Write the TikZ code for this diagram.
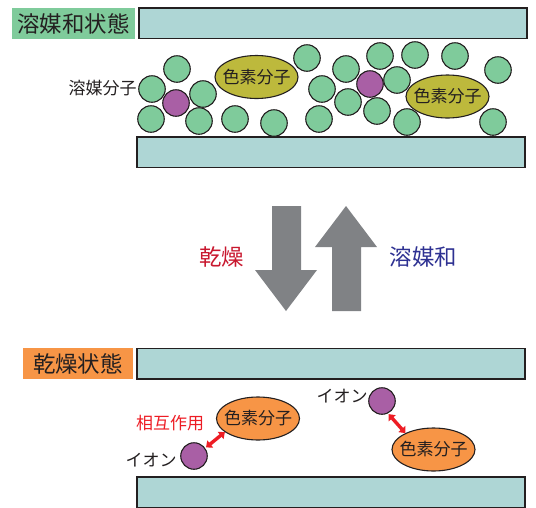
\documentclass[tikz,border=0pt]{standalone}
\usepackage{fontspec}
\setmainfont{Noto Sans CJK JP}
\usetikzlibrary{shapes.geometric,arrows.meta}
\definecolor{solv}{HTML}{7FCB9B}
\definecolor{plate}{HTML}{AED6D5}
\definecolor{ionc}{HTML}{A95FA5}
\definecolor{olive}{HTML}{BDB93C}
\definecolor{orng}{HTML}{F79546}
\definecolor{ink}{HTML}{231F20}
\definecolor{arrowgray}{HTML}{808285}
\definecolor{dryred}{HTML}{C8172E}
\definecolor{wetblue}{HTML}{2E3192}
\definecolor{linkred}{HTML}{ED1C24}
\newcommand{\dyetext}{\raisebox{-0.38em}[0pt][0pt]{\makebox[0pt]{色素分子}}}
\tikzset{
  x=1pt,y=-1pt,
  plateb/.style={draw=ink,line width=1.5pt,fill=plate,rectangle,inner sep=0,outer sep=0,minimum width=388pt,minimum height=30.5pt},
  mol/.style={draw=ink,line width=1.1pt,circle,inner sep=0,outer sep=0,minimum size=26.5pt},
  green mol/.style={mol,fill=solv},
  ion mol/.style={mol,fill=ionc},
  dye/.style={draw=ink,line width=1.1pt,ellipse,inner sep=0,outer sep=0,minimum width=83pt,minimum height=43pt,text=ink,font=\fontsize{17pt}{18pt}\selectfont},
  olive dye/.style={dye,fill=olive},
  orange dye/.style={dye,fill=orng},
  label text/.style={inner sep=0,text=ink,font=\fontsize{17pt}{18pt}\selectfont},
  title box/.style={inner sep=0,outer sep=0,text=ink,minimum height=31pt,font=\fontsize{22.4pt}{24pt}\selectfont},
  big text/.style={inner sep=0,font=\fontsize{22.4pt}{24pt}\selectfont},
  flow/.style={fill=arrowgray,draw=none},
  link/.style={draw=linkred,line width=3.4pt,shorten <=1.5pt,shorten >=0.5pt,{Triangle[length=5.5pt,width=9pt]}-{Triangle[length=5.5pt,width=9pt]}}
}
\begin{document}
\begin{tikzpicture}
\useasboundingbox (0,0) rectangle (536,507);
% titles
\node[title box,fill=solv,minimum width=123pt] (t1) at (73.5,23.5) {溶媒和状態};
\node[title box,fill=orng,minimum width=110pt] (t2) at (78,363.5) {乾燥状態};
% plates
\node[plateb] (p1) at (333,23.2) {};
\node[plateb] (p2) at (331,152.2) {};
\node[plateb] (p3) at (331,363.5) {};
\node[plateb] (p4) at (331,492) {};
% dyes, upper
\node[olive dye] (d1) at (256.5,77) {\dyetext};
\node[olive dye] (d2) at (447.5,96.5) {\dyetext};
% solvent molecules
\foreach \n/\x/\y in {a/177/69,b/152/89,c/203/94,d/151/119,e/199/121,f/235/119,g/274/123,
  h/307/58,i/346/69,j/322/89,k/348/102,l/319/119,m/377/111,n/380/56,o/415/55,q/397/80,r/407/122,s/455/56,u/498/70,v/493/122}
  \node[green mol] (\n) at (\x,\y) {};
\node[ion mol] (w1) at (176,103) {};
\node[ion mol] (w2) at (370,84) {};
\node[label text] (l1) at (102.5,88.5) {溶媒分子};
% big arrows
\path[flow] (272,206) -- (301,206) -- (301,270) -- (317,270) -- (286,311) -- (255,270) -- (272,270) -- cycle;
\path[flow] (332,311) -- (361,311) -- (361,247) -- (377,247) -- (346,206) -- (315,247) -- (332,247) -- cycle;
\node[big text,text=dryred] (dry) at (221.5,257) {乾燥};
\node[big text,text=wetblue] (wet) at (423.5,257) {溶媒和};
% dry state
\node[orange dye] (d3) at (258,418.5) {\dyetext};
\node[orange dye] (d4) at (433.5,449.5) {\dyetext};
\node[ion mol] (i1) at (194,456) {};
\node[ion mol] (i2) at (382,401) {};
\node[label text] (l2) at (151,460) {イオン};
\node[label text] (l3) at (342,396) {イオン};
\node[label text,text=linkred] (l4) at (170,423) {相互作用};
\draw[link] (i1.35) -- (d3.202.5);
\draw[link] (i2.295) -- (d4.150);
\end{tikzpicture}
\end{document}
